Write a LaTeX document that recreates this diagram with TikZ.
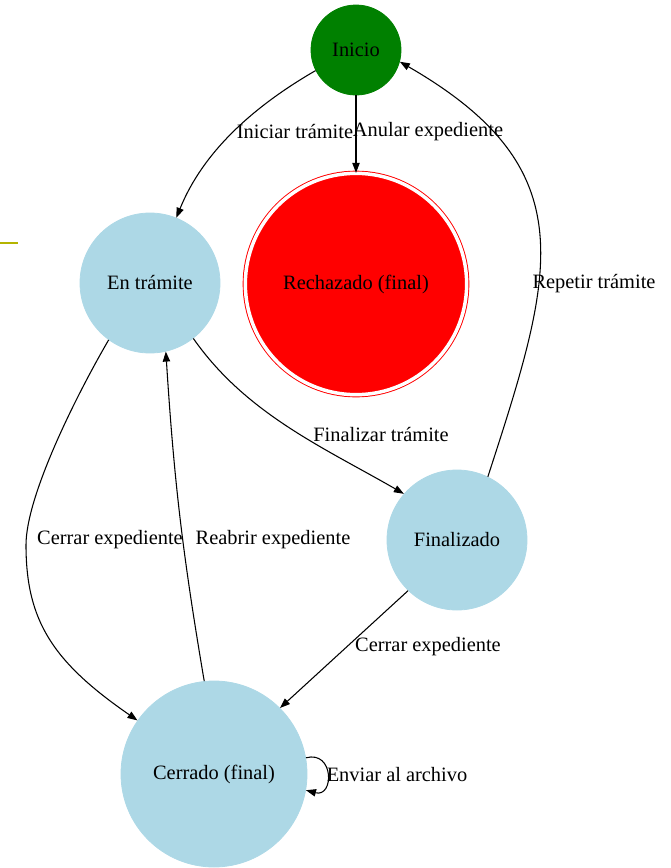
\documentclass[tikz,border=0pt]{standalone}
\usepackage{fontspec}
\setmainfont{Liberation Serif}
\usepackage{tikz}
\usetikzlibrary{arrows.meta,calc}
\definecolor{azulC}{HTML}{ADD8E6}
\definecolor{verdeI}{HTML}{008000}
\definecolor{rojoF}{HTML}{FF0000}
\definecolor{oliva}{HTML}{B4B400}
\tikzset{
  estado/.style={circle, fill=#1, draw=#1, line width=0.6pt, inner sep=0pt,
                 font=\fontsize{15.3}{17}\selectfont},
  final/.style={estado=rojoF, double=white, double distance=2.6pt, line width=0.7pt},
  etiq/.style={inner sep=0pt, font=\fontsize{15.3}{17}\selectfont},
  flecha/.style={-{Triangle[length=7.5pt,width=5.5pt]}, line width=0.8pt, draw=black},
}
\begin{document}
\begin{tikzpicture}[x=0.75pt, y=-0.75pt]
    \useasboundingbox (0,0) rectangle (671,868);
    \draw[oliva, line width=0.8pt] (0,243) -- (18,243);
    % estados
    \node[estado=verdeI, minimum size=67.5pt] (inicio) at (356,50) {Inicio};
    \node[final, minimum size=166pt] (rech) at (356,284) {Rechazado (final)};
    \node[estado=azulC, minimum size=105pt] (entr) at (150,283) {En trámite};
    \node[estado=azulC, minimum size=105pt] (fin) at (457,540) {Finalizado};
    \node[estado=azulC, minimum size=139.5pt] (cerr) at (214,774) {Cerrado (final)};
    % etiquetas
    \node[etiq] (l1) at (295,132) {Iniciar trámite};
    \node[etiq] (l2) at (428,132) {Anular expediente};
    \node[etiq] (l3) at (594,284) {Repetir trámite};
    \node[etiq] (l4) at (381,435) {Finalizar trámite};
    \node[etiq] (l5) at (110,540) {Cerrar expediente};
    \node[etiq] (l6) at (273,540) {Reabrir expediente};
    \node[etiq] (l7) at (428,647) {Cerrar expediente};
    \node[etiq] (l8) at (397,775) {Enviar al archivo};
    % transiciones
    \draw[flecha] (inicio.207) to[out=210, in=68, looseness=0.9] (entr.68);
    \draw[flecha] (inicio) -- (rech);
    \draw[flecha] (fin.64) to[out=72, in=-30, looseness=1.3] (inicio.-15);
    \draw[flecha] (entr.-52) to[out=-55, in=150, looseness=0.9] (fin.139);
    \draw[flecha] (entr.-126) .. controls (76,396) and (26,496) .. (26,545)
                  .. controls (26,621) and (53,662) .. (cerr.145);
    \draw[flecha] (cerr.96) to[bend left=3] (entr.-77);
    \draw[flecha] (fin.-134) -- (cerr.45);
    \draw[flecha] (cerr.10) to[out=15, in=-15, distance=22pt] (cerr.-10);
\end{tikzpicture}
\end{document}
